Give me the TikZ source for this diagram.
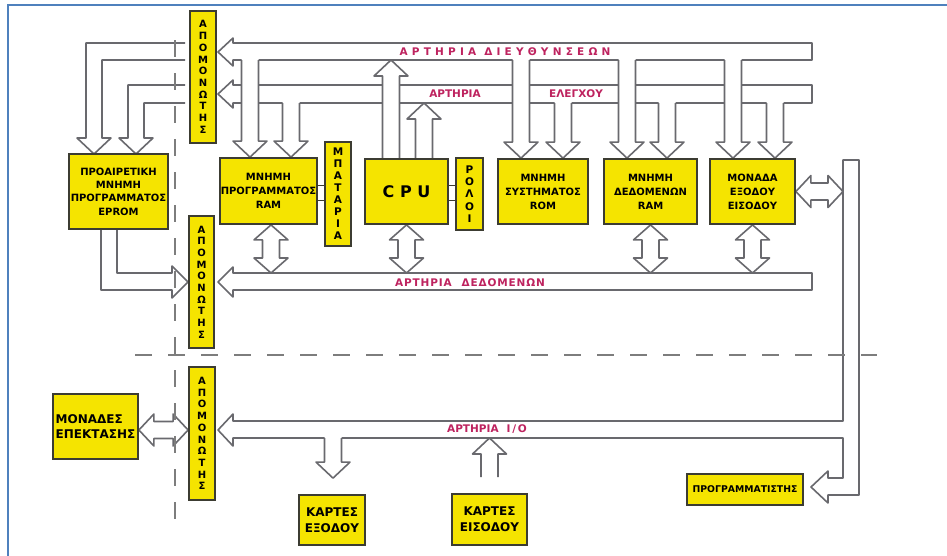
\documentclass[tikz,border=0pt]{standalone}
\usepackage{fontspec}
\setmainfont{DejaVu Sans}
\usetikzlibrary{calc}

\definecolor{boxfill}{RGB}{245,228,0}
\definecolor{boxedge}{RGB}{60,60,50}
\definecolor{busgray}{RGB}{105,105,110}
\definecolor{dashgray}{RGB}{125,125,125}
\definecolor{lblred}{RGB}{190,35,95}
\definecolor{framebl}{RGB}{79,129,189}

\pgfdeclarelayer{bg}
\pgfsetlayers{bg,main}

\tikzset{
  busline/.style={draw=busgray, line width=1.6pt, line join=round},
  yblock/.style={draw=boxedge, fill=boxfill, line width=1.8pt, inner sep=0pt,
    align=center, font=\fontsize{10}{14}\selectfont\bfseries},
  tallblock/.style={yblock, font=\fontsize{10}{11.7}\selectfont\bfseries},
  buslbl/.style={text=lblred, font=\fontsize{10.5}{12}\selectfont\bfseries, inner sep=0pt},
  sepline/.style={draw=dashgray, line width=1.6pt, dash pattern=on 17pt off 16pt},
  tieline/.style={draw=boxedge, line width=0.8pt},
}

% hollow arrow pointing down: #1 tip, #2 point on the bus line it leaves
\newcommand\hdown[2]{%
  \fill[white] let \p1=#1, \p2=#2 in
    (\x1-8.5pt,\y2+1.2pt) -- (\x1-8.5pt,\y1+16pt) -- (\x1-17pt,\y1+16pt) -- (\x1,\y1)
    -- (\x1+17pt,\y1+16pt) -- (\x1+8.5pt,\y1+16pt) -- (\x1+8.5pt,\y2+1.2pt) -- cycle;
  \draw[busline] let \p1=#1, \p2=#2 in
    (\x1-8.5pt,\y2) -- (\x1-8.5pt,\y1+16pt) -- (\x1-17pt,\y1+16pt) -- (\x1,\y1)
    -- (\x1+17pt,\y1+16pt) -- (\x1+8.5pt,\y1+16pt) -- (\x1+8.5pt,\y2);
}
% hollow arrow pointing up: #1 foot of the shaft, #2 point on the bus line it reaches
\newcommand\hup[2]{%
  \fill[white] let \p1=#1, \p2=#2 in
    (\x1-8.5pt,\y1) -- (\x1-8.5pt,\y2-16pt) -- (\x1-17pt,\y2-16pt) -- (\x1,\y2)
    -- (\x1+17pt,\y2-16pt) -- (\x1+8.5pt,\y2-16pt) -- (\x1+8.5pt,\y1) -- cycle;
  \draw[busline] let \p1=#1, \p2=#2 in
    (\x1-8.5pt,\y1) -- (\x1-8.5pt,\y2-16pt) -- (\x1-17pt,\y2-16pt) -- (\x1,\y2)
    -- (\x1+17pt,\y2-16pt) -- (\x1+8.5pt,\y2-16pt) -- (\x1+8.5pt,\y1);
}
% vertical two-way arrow: #1 upper tip, #2 point on the line of the lower tip
\newcommand\dblv[2]{%
  \filldraw[busline, fill=white] let \p1=#1, \p2=#2 in
    (\x1,\y1) -- (\x1+17pt,\y1-15pt) -- (\x1+8.5pt,\y1-15pt) -- (\x1+8.5pt,\y2+15pt)
    -- (\x1+17pt,\y2+15pt) -- (\x1,\y2) -- (\x1-17pt,\y2+15pt) -- (\x1-8.5pt,\y2+15pt)
    -- (\x1-8.5pt,\y1-15pt) -- (\x1-17pt,\y1-15pt) -- cycle;
}
% horizontal two-way arrow: #1 left tip, #2 point on the line of the right tip
\newcommand\dblh[2]{%
  \filldraw[busline, fill=white] let \p1=#1, \p2=#2 in
    (\x1,\y1) -- (\x1+15pt,\y1+16pt) -- (\x1+15pt,\y1+8.5pt) -- (\x2-15pt,\y1+8.5pt)
    -- (\x2-15pt,\y1+16pt) -- (\x2,\y1) -- (\x2-15pt,\y1-16pt) -- (\x2-15pt,\y1-8.5pt)
    -- (\x1+15pt,\y1-8.5pt) -- (\x1+15pt,\y1-16pt) -- cycle;
}

\begin{document}
\begin{tikzpicture}[x=1pt,y=-1pt]
\useasboundingbox (0,0) rectangle (947,555);

% lines of the four buses
\coordinate (adrT) at (0,43);  \coordinate (adrB) at (0,60);
\coordinate (ctlT) at (0,85);  \coordinate (ctlB) at (0,103);
\coordinate (datT) at (0,273); \coordinate (datB) at (0,290);
\coordinate (ioT)  at (0,421); \coordinate (ioB)  at (0,438);
\coordinate (iomid) at (0,430);
\coordinate (vbus) at (843,0);

% ---- blocks
\node[yblock, minimum width=99pt, minimum height=75pt, font=\fontsize{10}{13.3}\selectfont\bfseries]
  (eprom) at (118.5,191.5) {ΠΡΟΑΙΡΕΤΙΚΗ\\ΜΝΗΜΗ\\ΠΡΟΓΡΑΜΜΑΤΟΣ\\EPROM};
\node[yblock, minimum width=97pt, minimum height=66pt] (ramp) at (268.5,191) {ΜΝΗΜΗ\\ΠΡΟΓΡΑΜΜΑΤΟΣ\\RAM};
\node[tallblock, minimum width=26pt, minimum height=104pt, font=\fontsize{10.5}{12}\selectfont\bfseries]
  (bat) at (338,194) {Μ\\Π\\Α\\Τ\\Α\\Ρ\\Ι\\Α};
\node[yblock, minimum width=83pt, minimum height=65pt, font=\fontsize{16}{18}\selectfont\bfseries]
  (cpu) at (406.5,191.5) {C P U};
\node[tallblock, minimum width=27pt, minimum height=72pt, font=\fontsize{10.5}{12.3}\selectfont\bfseries]
  (clk) at (469.5,194) {Ρ\\Ο\\Λ\\Ο\\Ι};
\node[yblock, minimum width=90pt, minimum height=65pt] (rom) at (543,191.5) {ΜΝΗΜΗ\\ΣΥΣΤΗΜΑΤΟΣ\\ROM};
\node[yblock, minimum width=93pt, minimum height=65pt] (ramd) at (650.5,191.5) {ΜΝΗΜΗ\\ΔΕΔΟΜΕΝΩΝ\\RAM};
\node[yblock, minimum width=85pt, minimum height=65pt] (io) at (752.5,191.5) {ΜΟΝΑΔΑ\\ΕΞΟΔΟΥ\\ΕΙΣΟΔΟΥ};

\node[tallblock, minimum width=26pt, minimum height=132pt] (iso1) at (203,77) {Α\\Π\\Ο\\Μ\\Ο\\Ν\\Ω\\Τ\\Η\\Σ};
\node[tallblock, minimum width=25pt, minimum height=132pt] (iso2) at (201.5,282) {Α\\Π\\Ο\\Μ\\Ο\\Ν\\Ω\\Τ\\Η\\Σ};
\node[tallblock, minimum width=26pt, minimum height=133pt] (iso3) at (202,433.5) {Α\\Π\\Ο\\Μ\\Ο\\Ν\\Ω\\Τ\\Η\\Σ};

\node[yblock, minimum width=85pt, minimum height=65pt, align=left, font=\fontsize{12}{15}\selectfont\bfseries]
  (mon) at (95.5,426.5) {ΜΟΝΑΔΕΣ\\ΕΠΕΚΤΑΣΗΣ};
\node[yblock, minimum width=66pt, minimum height=50pt, font=\fontsize{12}{16}\selectfont\bfseries]
  (kout) at (332,520) {ΚΑΡΤΕΣ\\ΕΞΟΔΟΥ};
\node[yblock, minimum width=75pt, minimum height=51pt, font=\fontsize{12}{16}\selectfont\bfseries]
  (kin) at (489.5,519.5) {ΚΑΡΤΕΣ\\ΕΙΣΟΔΟΥ};
\node[yblock, minimum width=116pt, minimum height=31pt, font=\fontsize{9.3}{10}\selectfont\bfseries]
  (prg) at (745,489.5) {ΠΡΟΓΡΑΜΜΑΤΙΣΤΗΣ};

% short ties: battery and clock
\draw[tieline] ([yshift=6pt]ramp.east) -- ([yshift=6pt]ramp.east -| bat.west);
\draw[tieline] ([yshift=-9pt]ramp.east) -- ([yshift=-9pt]ramp.east -| bat.west);
\draw[tieline] ([yshift=6pt]cpu.east) -- ([yshift=6pt]cpu.east -| clk.west);
\draw[tieline] ([yshift=-9pt]cpu.east) -- ([yshift=-9pt]cpu.east -| clk.west);

\begin{pgfonlayer}{bg}
\fill[white] (0,0) rectangle (947,555);

% address bus
\filldraw[busline, fill=white] (218,52) -- (233,38) -- (233,43) -- (812,43) -- (812,60)
  -- (233,60) -- (233,66) -- cycle;
% control bus
\filldraw[busline, fill=white] (218,94) -- (233,80) -- (233,85) -- (812,85) -- (812,103)
  -- (233,103) -- (233,108) -- cycle;
% data bus
\filldraw[busline, fill=white] (218,282) -- (233,267) -- (233,273) -- (812,273) -- (812,290)
  -- (233,290) -- (233,297) -- cycle;
% I/O bus with its riser and the feed to the programmer
\filldraw[busline, fill=white] (218,430) -- (233,414) -- (233,421) -- (843,421) -- (843,160)
  -- (859,160) -- (859,495) -- (828,495) -- (828,503) -- (811,487) -- (828,471) -- (828,478)
  -- (843,478) -- (843,438) -- (233,438) -- (233,446) -- cycle;

% isolated address and control lines to the EPROM
\draw[busline] (185,43) -- (86,43) -- (86,138) -- (77,138) -- (94,154) -- (111,138)
  -- (102,138) -- (102,60) -- (185,60);
\draw[busline] (185,85) -- (128,85) -- (128,138) -- (119,138) -- (136,154) -- (153,138)
  -- (144,138) -- (144,103) -- (185,103);
% EPROM data to the isolator
\draw[busline] (101,229) -- (101,290) -- (172,290) -- (172,298) -- (188,282) -- (172,266)
  -- (172,273) -- (117,273) -- (117,229);

% control bus branches
\hdown{([xshift=22.5pt]ramp.north)}{(ctlB)}
\hdown{([xshift=20pt]rom.north)}{(ctlB)}
\hdown{([xshift=16.5pt]ramd.north)}{(ctlB)}
\hdown{([xshift=22.5pt]io.north)}{(ctlB)}
% address bus branches
\hdown{([xshift=-18.5pt]ramp.north)}{(adrB)}
\hdown{([xshift=-22pt]rom.north)}{(adrB)}
\hdown{([xshift=-23.5pt]ramd.north)}{(adrB)}
\hdown{([xshift=-19.5pt]io.north)}{(adrB)}
% CPU drives address and control
\hup{([xshift=-15.5pt]cpu.north)}{(adrB)}
\hup{([xshift=17.5pt]cpu.north)}{(ctlB)}

% data bus links
\dblv{([xshift=2.5pt]ramp.south)}{(datT)}
\dblv{(cpu.south)}{(datT)}
\dblv{(ramd.south)}{(datT)}
\dblv{(io.south)}{(datT)}

% I/O side
\dblh{(io.east)}{(vbus)}
\dblh{(mon.east |- iomid)}{(iso3.west)}
\hdown{([xshift=1pt,yshift=16pt]kout.north)}{(ioB)}
\hup{([yshift=16pt]kin.north)}{(ioB)}
\end{pgfonlayer}

% bus names
\node[buslbl] (lbladr) at (505,51.5) {\addfontfeature{LetterSpace=40}ΑΡΤΗΡΙΑ\hspace{8pt}ΔΙΕΥΘΥΝΣΕΩΝ};
\node[buslbl] (lblctla) at (455,94) {ΑΡΤΗΡΙΑ};
\node[buslbl] (lblctlb) at (576,94) {ΕΛΕΓΧΟΥ};
\node[buslbl] (lbldat) at (470,282.5) {\addfontfeature{LetterSpace=8}ΑΡΤΗΡΙΑ\hspace{10pt}ΔΕΔΟΜΕΝΩΝ};
\node[buslbl] (lblio) at (487,429.5) {ΑΡΤΗΡΙΑ\hspace{8pt}I\,/\,O};

% isolation boundaries
\draw[sepline] (175,40) -- (175,520);
\draw[sepline] (135,355) -- (877,355);

% frame
\draw[draw=framebl, line width=2pt] (8,560) -- (8,5) -- (949,5);
\end{tikzpicture}
\end{document}
